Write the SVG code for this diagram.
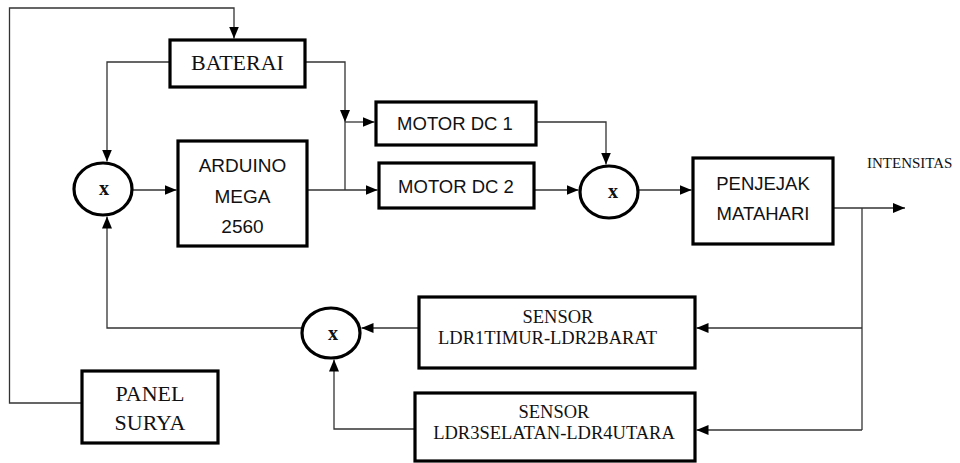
<svg xmlns="http://www.w3.org/2000/svg" width="960" height="463" viewBox="0 0 960 463">
<defs>
<marker id="ah" markerUnits="userSpaceOnUse" markerWidth="12" markerHeight="10" refX="12" refY="5" orient="auto">
<path d="M0,0 L12,5 L0,10 z" fill="#000"/>
</marker>
<style>
.box{fill:#fff;stroke:#000;stroke-width:3.2}
.circ{fill:#fff;stroke:#000;stroke-width:3.2}
.ln{fill:none;stroke:#333;stroke-width:1.3}
.ar{marker-end:url(#ah)}
.serif{font-family:"Liberation Serif","Times New Roman",serif;fill:#111}
.sans{font-family:"Liberation Sans",Arial,sans-serif;fill:#111}
.mid{text-anchor:middle}
</style>
</defs>
<rect width="960" height="463" fill="#fff"/>
<g id="connectors">
<path class="ln ar" d="M82,403 H9.5 V8 H234 V38.5"/>
<path class="ln ar" d="M170,62 H107 V161.5"/>
<path class="ln ar" d="M305,62 H345 V122"/>
<path class="ln ar" d="M345,122 H374.5"/>
<path class="ln" d="M345,122 V190"/>
<path class="ln ar" d="M307,190 H377.5"/>
<path class="ln ar" d="M536,122 H606 V164.5"/>
<path class="ln ar" d="M534,190 H578.5"/>
<path class="ln ar" d="M638,190 H691.5"/>
<path class="ln ar" d="M132,190 H176.5"/>
<path class="ln ar" d="M833,208 H905"/>
<path class="ln" d="M862,208 V430"/>
<path class="ln ar" d="M862,328 H696.5"/>
<path class="ln ar" d="M862,430 H696.5"/>
<path class="ln ar" d="M419,328 H361.5"/>
<path class="ln ar" d="M415,429 H334 V359.5"/>
<path class="ln ar" d="M302,328 H107 V216.5"/>
</g>
<g id="n_baterai">
<rect class="box" x="170" y="40" width="135" height="47"/>
<text class="serif mid" x="237.5" y="70" font-size="22">BATERAI</text>
</g>
<g id="n_arduino">
<rect class="box" x="178" y="141" width="129" height="105"/>
<text class="sans mid" x="242.5" y="172" font-size="19">ARDUINO</text>
<text class="sans mid" x="242.5" y="203" font-size="19">MEGA</text>
<text class="sans mid" x="242.5" y="233" font-size="19">2560</text>
</g>
<g id="n_motor1">
<rect class="box" x="376" y="102" width="160" height="43"/>
<text class="sans mid" x="455" y="130" font-size="18.5">MOTOR DC 1</text>
</g>
<g id="n_motor2">
<rect class="box" x="379" y="163" width="155" height="45"/>
<text class="sans mid" x="456" y="193" font-size="18.5">MOTOR DC 2</text>
</g>
<g id="n_sum1">
<ellipse class="circ" cx="103" cy="189" rx="29" ry="26"/>
<text class="serif mid" x="104" y="195" font-size="20" font-weight="bold">x</text>
</g>
<g id="n_sum2">
<ellipse class="circ" cx="609" cy="192" rx="29" ry="26"/>
<text class="serif mid" x="613" y="198" font-size="20" font-weight="bold">x</text>
</g>
<g id="n_sum3">
<ellipse class="circ" cx="331" cy="333" rx="29" ry="25"/>
<text class="serif mid" x="333" y="340" font-size="20" font-weight="bold">x</text>
</g>
<g id="n_penjejak">
<rect class="box" x="693" y="158" width="140" height="86"/>
<text class="sans mid" x="763" y="190" font-size="18.5">PENJEJAK</text>
<text class="sans mid" x="763" y="220" font-size="18.5">MATAHARI</text>
</g>
<g id="n_intensitas">
<text class="serif" x="867" y="168" font-size="15">INTENSITAS</text>
</g>
<g id="n_sensor1">
<rect class="box" x="419" y="297" width="276" height="71"/>
<text class="serif mid" x="558" y="323" font-size="18.5">SENSOR</text>
<text class="serif mid" x="547.5" y="344" font-size="18.5">LDR1TIMUR-LDR2BARAT</text>
</g>
<g id="n_sensor2">
<rect class="box" x="415" y="393" width="280" height="68"/>
<text class="serif mid" x="554" y="418" font-size="18.5">SENSOR</text>
<text class="serif mid" x="554" y="439" font-size="18.5">LDR3SELATAN-LDR4UTARA</text>
</g>
<g id="n_panel">
<rect class="box" x="82" y="371" width="136" height="72"/>
<text class="serif mid" x="150" y="401" font-size="22">PANEL</text>
<text class="serif mid" x="150" y="430" font-size="22">SURYA</text>
</g>
</svg>
